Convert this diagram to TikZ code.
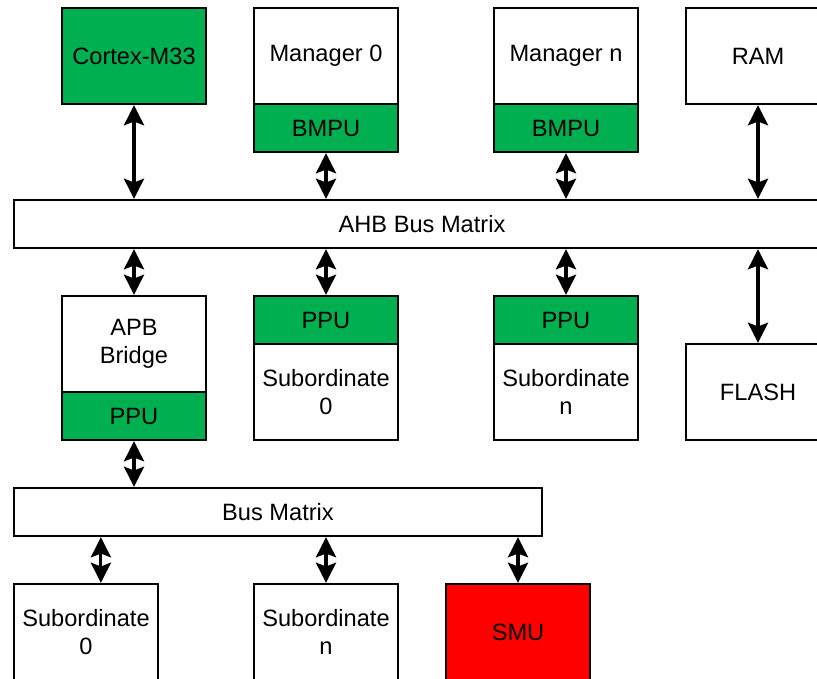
\documentclass[tikz,border=0pt]{standalone}
\usepackage{fontspec}
\setmainfont{Liberation Sans}
\usetikzlibrary{arrows.meta}
\definecolor{ppugreen}{HTML}{00B050}
\definecolor{smured}{HTML}{FF0000}

\begin{document}
\begin{tikzpicture}
    [inner sep=0pt,line width=1.4pt,
     font=\fontsize{14}{16.6}\selectfont,
     blk/.style={rectangle,draw,fill=white,align=center,minimum width=3cm,minimum height=2cm},
     band/.style={rectangle,draw,fill=ppugreen,minimum width=3cm,minimum height=1cm},
     busbox/.style={rectangle,draw,fill=white,minimum height=1cm},
     biarrow/.style={{Stealth[length=4.2mm,width=4.2mm,inset=0.8mm]}-{Stealth[length=4.2mm,width=4.2mm,inset=0.8mm]},line width=1.8pt}]

    \useasboundingbox (-0.2917, 0.1667) rectangle (16.729, -13.979);
    \clip (-0.2917, 0.1667) rectangle (16.729, -13.979);

    % top row:
    \node (cm) at (2.5, -1) [blk,fill=ppugreen] {Cortex-M33};
    \node (m0) at (6.5, -1) [blk] {Manager 0};
    \node (m0b) at (6.5, -2.5) [band] {BMPU};
    \node (mn) at (11.5, -1) [blk] {Manager n};
    \node (mnb) at (11.5, -2.5) [band] {BMPU};
    \node (ram) at (15.5, -1) [blk] {RAM};

    % main bus:
    \node (ahb) at (8.5, -4.5) [busbox,minimum width=17cm] {AHB Bus Matrix};

    % middle row:
    \node (apb) at (2.5, -7) [blk] {APB\\Bridge};
    \node (apbp) at (2.5, -8.5) [band] {PPU};
    \node (s0p) at (6.5, -6.5) [band] {PPU};
    \node (s0) at (6.5, -8) [blk] {Subordinate\\0};
    \node (snp) at (11.5, -6.5) [band] {PPU};
    \node (sn) at (11.5, -8) [blk] {Subordinate\\n};
    \node (flash) at (15.5, -8) [blk] {FLASH};

    % peripheral bus:
    \node (bus) at (5.5, -10.5) [busbox,minimum width=11cm] {Bus Matrix};

    % bottom row:
    \node (bs0) at (1.5, -13) [blk] {Subordinate\\0};
    \node (bsn) at (6.5, -13) [blk] {Subordinate\\n};
    \node (smu) at (10.5, -13) [blk,fill=smured] {SMU};

    % connect nodes:

    \draw [biarrow] (cm.south) -- (cm.south |- ahb.north);
    \draw [biarrow] (m0b.south) -- (m0b.south |- ahb.north);
    \draw [biarrow] (mnb.south) -- (mnb.south |- ahb.north);
    \draw [biarrow] (ram.south) -- (ram.south |- ahb.north);
    \draw [biarrow] (apb.north |- ahb.south) -- (apb.north);
    \draw [biarrow] (s0p.north |- ahb.south) -- (s0p.north);
    \draw [biarrow] (snp.north |- ahb.south) -- (snp.north);
    \draw [biarrow] (flash.north |- ahb.south) -- (flash.north);
    \draw [biarrow] (apbp.south) -- (apbp.south |- bus.north);
    \draw [biarrow] ([xshift=3.1mm]bs0.north |- bus.south) -- ([xshift=3.1mm]bs0.north);
    \draw [biarrow] (bsn.north |- bus.south) -- (bsn.north);
    \draw [biarrow] (smu.north |- bus.south) -- (smu.north);

  \end{tikzpicture}
\end{document}
